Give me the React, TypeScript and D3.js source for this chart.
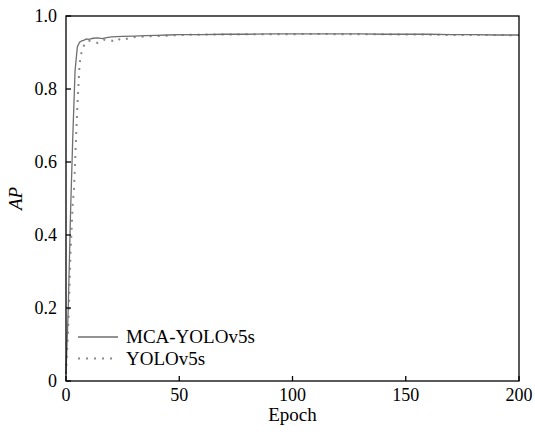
import React from 'react';
import * as d3 from 'd3';

// epochs / AP
const mcaEpochs = [0, 1, 2, 3, 4, 5, 6, 7, 8, 9, 10, 12, 14, 16, 18, 20, 25, 30, 35, 40, 45, 50, 60, 70, 80, 90, 100, 110, 120, 130, 140, 150, 160, 170, 180, 190, 200];
const mcaAP = [0.02, 0.2, 0.46, 0.67, 0.85, 0.915, 0.928, 0.932, 0.934, 0.937, 0.936, 0.939, 0.94, 0.938, 0.941, 0.943, 0.944, 0.945, 0.946, 0.947, 0.948, 0.949, 0.949, 0.95, 0.95, 0.951, 0.951, 0.951, 0.951, 0.951, 0.95, 0.95, 0.95, 0.949, 0.949, 0.948, 0.948];

const yoloEpochs = [0, 1, 2, 3, 3.5, 4, 5, 6, 7, 8, 9, 10, 12, 14, 15, 17, 20, 22, 24, 26, 28, 30, 35, 40, 45, 50, 60, 70, 80, 90, 100, 110, 120, 130, 140, 150, 160, 170, 180, 190, 200];
const yoloAP = [0.02, 0.15, 0.35, 0.49, 0.52, 0.6, 0.75, 0.87, 0.905, 0.92, 0.93, 0.932, 0.93, 0.926, 0.927, 0.935, 0.933, 0.929, 0.938, 0.936, 0.94, 0.942, 0.944, 0.945, 0.946, 0.948, 0.949, 0.949, 0.95, 0.95, 0.95, 0.951, 0.95, 0.95, 0.95, 0.949, 0.949, 0.948, 0.948, 0.948, 0.947];

const xTicks = [0, 50, 100, 150, 200];
const yTicks = [0, 0.2, 0.4, 0.6, 0.8, 1.0];
const seriesNames = ['MCA-YOLOv5s', 'YOLOv5s'];

const W = 535, H = 432;
const margin = { top: 16, right: 16, bottom: 51, left: 66 };
const font = "'Liberation Serif', 'Times New Roman', Tinos, 'DejaVu Serif', serif";

const css = `
text { font-family: ${font} !important; }
`;

const x = d3.scaleLinear().domain([0, 200]).range([margin.left, W - margin.right]);
const y = d3.scaleLinear().domain([0, 1]).range([H - margin.bottom, margin.top]);
const line = d3.line<[number, number]>().x(d => x(d[0])).y(d => y(d[1]));

const mcaPath = line(mcaEpochs.map((e, i) => [e, mcaAP[i]] as [number, number])) || '';
const yoloPath = line(yoloEpochs.map((e, i) => [e, yoloAP[i]] as [number, number])) || '';

const solidStyle = { stroke: '#6f6f6f', strokeWidth: 1.3 };
const dotStyle = { stroke: '#8a8a8a', strokeWidth: 2, strokeDasharray: '2,6' };

function T(props: any) {
    const { size, italic, children, ...rest } = props;
    return (
        <text {...rest} fontFamily={font}
            style={{ fontFamily: font, fontSize: size, fontStyle: italic ? 'italic' : 'normal' }}>
            {children}
        </text>
    );
}

export default function App() {
    return (
        <div style={{ position: 'absolute', left: 0, top: 0, width: W, height: H, fontFamily: font }}>
            <svg width={W} height={H}>
                <style>{css}</style>
                <path d={yoloPath} fill="none" {...dotStyle} />
                <path d={mcaPath} fill="none" {...solidStyle} />

                <rect x={x(0)} y={y(1)} width={x(200) - x(0)} height={y(0) - y(1)}
                    fill="none" stroke="#000" strokeWidth={1.3} />

                {xTicks.map(t => (
                    <g key={'x' + t}>
                        <line x1={x(t)} x2={x(t)} y1={y(0)} y2={y(0) - 5} stroke="#000" strokeWidth={1.3} />
                        <T x={x(t)} y={y(0) + 20} textAnchor="middle" size={18}>{String(t)}</T>
                    </g>
                ))}

                {yTicks.map(t => (
                    <g key={'y' + t}>
                        <line x1={x(0)} x2={x(0) + 5} y1={y(t)} y2={y(t)} stroke="#000" strokeWidth={1.3} />
                        <T x={x(0) - 9} y={y(t)} dy="0.32em" textAnchor="end" size={18}>
                            {t === 0 ? '0' : d3.format('.1f')(t)}
                        </T>
                    </g>
                ))}

                <T x={(x(0) + x(200)) / 2} y={H - 11} textAnchor="middle" size={19}>Epoch</T>
                <T transform={`translate(22,${(y(0) + y(1)) / 2}) rotate(-90)`} textAnchor="middle"
                    size={19} italic>AP</T>

                {seriesNames.map((name, i) => {
                    const ly = 337 + i * 21.5;
                    return (
                        <g key={name}>
                            <line x1={78} x2={118} y1={ly} y2={ly} {...(i === 0 ? solidStyle : dotStyle)} />
                            <T x={126} y={ly} dy="0.33em" size={19}>{name}</T>
                        </g>
                    );
                })}
            </svg>
        </div>
    );
}
